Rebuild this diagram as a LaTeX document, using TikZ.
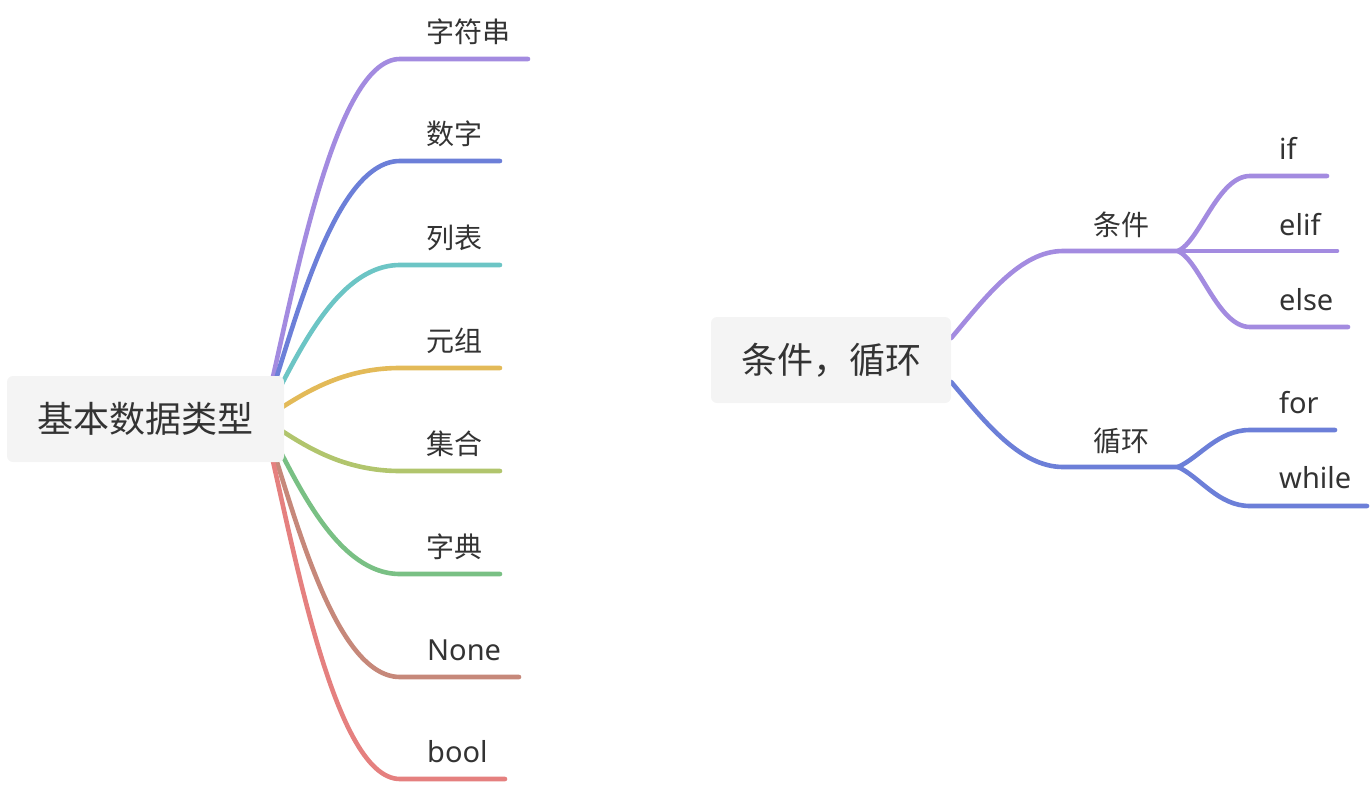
\documentclass[tikz,border=0pt]{standalone}
\usepackage{fontspec}
\setmainfont{Noto Sans CJK SC}
\newfontfamily\latinfont{Noto Sans}
\usetikzlibrary{calc}
\pgfdeclarelayer{bg}
\pgfsetlayers{bg,main}
\definecolor{cPurple}{HTML}{A38BE0}
\definecolor{cBlue}{HTML}{6C7FD8}
\definecolor{cTeal}{HTML}{6CC5C5}
\definecolor{cYellow}{HTML}{E3BA58}
\definecolor{cOlive}{HTML}{B1C56D}
\definecolor{cGreen}{HTML}{79C084}
\definecolor{cBrown}{HTML}{C6887A}
\definecolor{cRed}{HTML}{E5807F}
\definecolor{boxgray}{HTML}{F4F4F4}
\definecolor{txt}{HTML}{333333}
\tikzset{
  rootbox/.style={fill=boxgray, rounded corners=6pt, inner sep=0pt, text=txt, font=\fontsize{36}{40}\selectfont},
  lbl/.style={anchor=base west, inner sep=0pt, text=txt, font=\fontsize{28}{30}\selectfont},
  lat/.style={anchor=base west, inner sep=0pt, text=txt, font=\latinfont\fontsize{29}{34}\selectfont},
  br/.style={line width=4.6pt, line cap=round},
}
\begin{document}
\begin{tikzpicture}[x=1pt,y=-1pt]
\useasboundingbox (0,0) rectangle (1372,784);
% roots
\node[rootbox, minimum width=277pt, minimum height=86pt] (r1) at (145.5,419) {基本数据类型};
\node[rootbox, minimum width=240pt, minimum height=86pt] (r2) at (831,360) {条件，循环};
\coordinate (o1) at (263,419);
% left children
\coordinate (a1s) at (400,59);  \coordinate (a1e) at (528,59);
\coordinate (a2s) at (400,161); \coordinate (a2e) at (500,161);
\coordinate (a3s) at (400,265); \coordinate (a3e) at (500,265);
\coordinate (a4s) at (400,368); \coordinate (a4e) at (500,368);
\coordinate (a5s) at (400,471); \coordinate (a5e) at (500,471);
\coordinate (a6s) at (400,574); \coordinate (a6e) at (500,574);
\coordinate (a7s) at (400,677); \coordinate (a7e) at (519,677);
\coordinate (a8s) at (400,779); \coordinate (a8e) at (505,779);
\node[lbl] (a1) at (426,42) {字符串};
\node[lbl] (a2) at (426,144) {数字};
\node[lbl] (a3) at (426,248) {列表};
\node[lbl] (a4) at (426,351) {元组};
\node[lbl] (a5) at (426,454) {集合};
\node[lbl] (a6) at (426,557) {字典};
\node[lat] (a7) at (427,660) {None};
\node[lat] (a8) at (427,762) {bool};
% right children
\coordinate (b1s) at (1063,251); \coordinate (b1k) at (1178,251);
\coordinate (b2s) at (1063,467); \coordinate (b2k) at (1178,467);
\node[lbl] (b1) at (1093,235) {条件};
\node[lbl] (b2) at (1093,451) {循环};
\coordinate (c1s) at (1250,176); \coordinate (c1e) at (1327,176);
\coordinate (c2e) at (1337,251);
\coordinate (c3s) at (1250,327); \coordinate (c3e) at (1348,327);
\coordinate (d1s) at (1250,430); \coordinate (d1e) at (1335,430);
\coordinate (d2s) at (1250,506); \coordinate (d2e) at (1367,506);
\node[lat] (c1) at (1279,159) {if};
\node[lat] (c2) at (1279,235) {elif};
\node[lat] (c3) at (1279,310) {else};
\node[lat] (d1) at (1279,413) {for};
\node[lat] (d2) at (1279,488) {while};
\begin{pgfonlayer}{bg}
\draw[br,cPurple] (o1) .. controls +(27.4,-108) and +(-68.5,0) .. (a1s) -- (a1e);
\draw[br,cBlue]   (o1) .. controls +(27.4,-77.4) and +(-68.5,0) .. (a2s) -- (a2e);
\draw[br,cTeal]   (o1) .. controls +(27.4,-46.2) and +(-68.5,0) .. (a3s) -- (a3e);
\draw[br,cYellow] (o1) .. controls +(27.4,-15.3) and +(-68.5,0) .. (a4s) -- (a4e);
\draw[br,cOlive]  (o1) .. controls +(27.4,15.6) and +(-68.5,0) .. (a5s) -- (a5e);
\draw[br,cGreen]  (o1) .. controls +(27.4,46.5) and +(-68.5,0) .. (a6s) -- (a6e);
\draw[br,cBrown]  (o1) .. controls +(27.4,77.4) and +(-68.5,0) .. (a7s) -- (a7e);
\draw[br,cRed]    (o1) .. controls +(27.4,108) and +(-68.5,0) .. (a8s) -- (a8e);
\draw[br,cPurple] ([yshift=22pt]r2.east) .. controls (985,298) and (1020,251) .. (b1s) -- (b1k);
\draw[br,cBlue]   ([yshift=-22pt]r2.east) .. controls (985,422) and (1020,467) .. (b2s) -- (b2k);
\draw[br,cPurple] (b1k) .. controls +(22,-10) and +(-32,0) .. (c1s) -- (c1e);
\draw[br,cPurple] (b1k) -- (c2e);
\draw[br,cPurple] (b1k) .. controls +(22,10) and +(-32,0) .. (c3s) -- (c3e);
\draw[br,cBlue]   (b2k) .. controls +(22,-10) and +(-32,0) .. (d1s) -- (d1e);
\draw[br,cBlue]   (b2k) .. controls +(22,10) and +(-32,0) .. (d2s) -- (d2e);
\end{pgfonlayer}
\end{tikzpicture}
\end{document}
